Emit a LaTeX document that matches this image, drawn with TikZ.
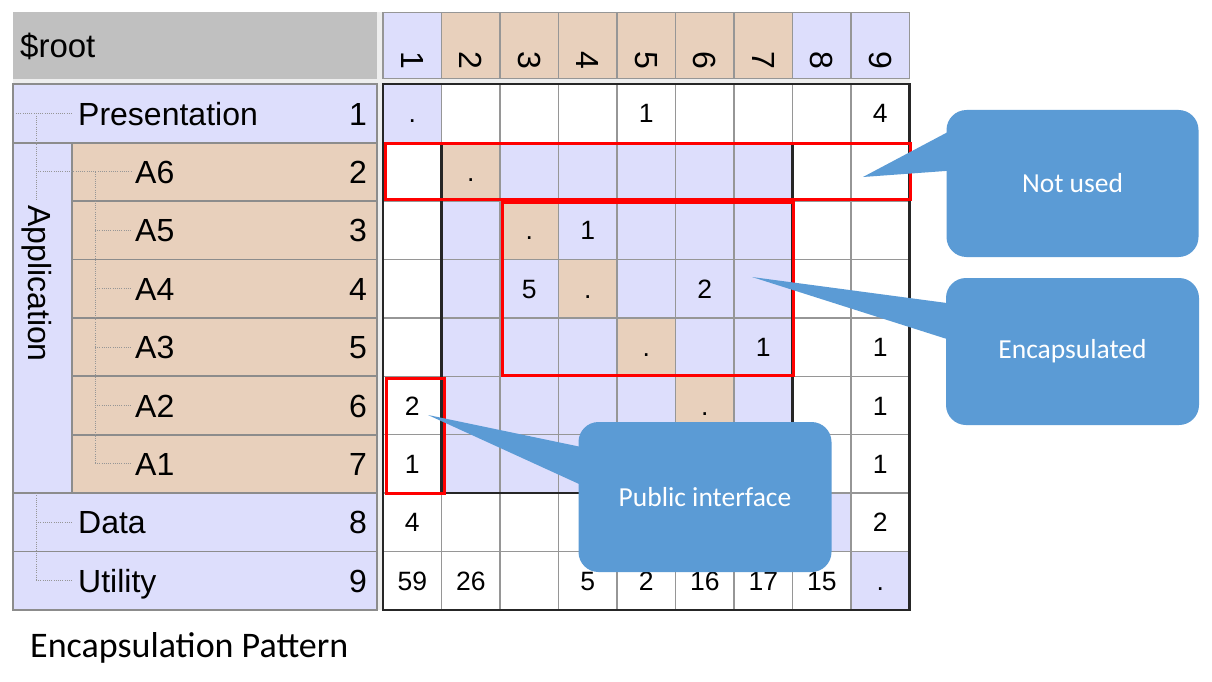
\documentclass[tikz,border=0pt]{standalone}
\usepackage{fontspec}
\setmainfont{Liberation Sans}
\newfontfamily\calfont{Carlito}
\definecolor{lav}{RGB}{221,222,252}
\definecolor{tanc}{RGB}{232,208,188}
\definecolor{hdrgray}{RGB}{192,192,192}
\definecolor{gridg}{RGB}{150,150,150}
\definecolor{panelg}{RGB}{140,140,140}
\definecolor{bluec}{RGB}{91,155,213}
\definecolor{gapg}{RGB}{238,238,238}
\definecolor{treeg}{RGB}{150,150,150}
\begin{document}
\begin{tikzpicture}[x=1pt,y=-1pt,
  celltext/.style={anchor=base,inner sep=0pt,font=\fontsize{26.5}{31}\selectfont},
  hdrdigit/.style={rotate=-90,anchor=center,inner sep=0pt,font=\fontsize{32}{38}\selectfont},
  treelabel/.style={anchor=base west,inner sep=0pt,font=\fontsize{32}{38}\selectfont},
  treenum/.style={anchor=base east,inner sep=0pt,font=\fontsize{32}{38}\selectfont},
  panelline/.style={draw=panelg,line width=1.8pt},
  gridline/.style={draw=gridg,line width=1.4pt},
  darkline/.style={draw=black!85,line width=2.2pt},
  treeline/.style={draw=treeg,line width=0.9pt,dash pattern=on 1pt off 1.2pt},
  redbox/.style={draw=red,line width=3pt},
  calloutbox/.style={fill=bluec,rounded corners=20pt,text=white,inner sep=0pt,font=\calfont\fontsize{27.5}{33}\selectfont},
  caption/.style={anchor=base west,inner sep=0pt,font=\calfont\fontsize{36}{43}\selectfont}
]
\useasboundingbox (0,0) rectangle (1212,682);
\fill[white] (0,0) rectangle (1212,682);
% gap background
\fill[gapg] (13.3,12.3) rectangle (909.5,610);

% ---------- left header ----------
\fill[hdrgray] (13.3,12.3) rectangle (376.7,78.7);
\node[anchor=base west,inner sep=0pt,font=\fontsize{33}{39}\selectfont] (root) at (20,58) {\$root};

% ---------- left tree panel ----------
\fill[lav] (13.3,84.3) rectangle (376.7,609.9);
\foreach \r in {2,...,7}
  \fill[tanc] (72.3,{84.3+(\r-1)*58.4}) rectangle (376.7,{84.3+\r*58.4});
\draw[panelline] (13.3,84.3) rectangle (376.7,609.9);
\draw[panelline] (13.3,142.7) -- (376.7,142.7);
\draw[panelline] (13.3,493.1) -- (376.7,493.1);
\draw[panelline] (13.3,551.5) -- (376.7,551.5);
\draw[panelline] (72.3,142.7) -- (72.3,493.1);
\foreach \r in {3,...,7}
  \draw[panelline] (72.3,{84.3+(\r-1)*58.4}) -- (376.7,{84.3+(\r-1)*58.4});

% tree dotted lines
\draw[treeline] (16,113.5) -- (73,113.5);
\draw[treeline] (36,113.5) -- (36,200);
\draw[treeline] (36,171.9) -- (132,171.9);
\draw[treeline] (95,171.9) -- (95,463.9);
\foreach \r in {3,...,7}
  \draw[treeline] (95,{84.3+(\r-0.5)*58.4}) -- (132,{84.3+(\r-0.5)*58.4});
\draw[treeline] (36,493.1) -- (36,580.7);
\draw[treeline] (36,522.3) -- (73,522.3);
\draw[treeline] (36,580.7) -- (73,580.7);

% tree labels
\node[treelabel] (tP) at (78,125) {Presentation};
\node[treelabel] (tD) at (78,533.8) {Data};
\node[treelabel] (tU) at (78,592.2) {Utility};
\foreach \r/\t in {2/A6,3/A5,4/A4,5/A3,6/A2,7/A1}
  \node[treelabel] (t\t) at (135,{84.3+(\r-0.5)*58.4+11.5}) {\t};
\foreach \r in {1,...,9}
  \node[treenum] (n\r) at (367,{84.3+(\r-0.5)*58.4+11.5}) {\r};
\node[rotate=-90,anchor=center,inner sep=0pt,font=\fontsize{32}{38}\selectfont] (tApp) at (37,283.5) {Application};

% ---------- matrix header ----------
\foreach \c in {1,8,9}
  \fill[lav] ({383+(\c-1)*58.5},12.3) rectangle ({383+\c*58.5},78.3);
\foreach \c in {2,...,7}
  \fill[tanc] ({383+(\c-1)*58.5},12.3) rectangle ({383+\c*58.5},78.3);
\foreach \c in {1,...,9}
  \draw[gridline] ({383+(\c-1)*58.5},12.3) rectangle ({383+\c*58.5},78.3);
\foreach \c in {1,...,9}
  \node[hdrdigit] (h\c) at ({383+(\c-0.5)*58.5},60) {\c};

% ---------- matrix cells ----------
\fill[white] (383,84.3) rectangle (909.5,609.9);
\fill[lav] (441.5,142.7) rectangle (792.5,493.1);
\foreach \k in {2,...,7}
  \fill[tanc] ({383+(\k-1)*58.5},{84.3+(\k-1)*58.4}) rectangle ({383+\k*58.5},{84.3+\k*58.4});
\foreach \k in {1,8,9}
  \fill[lav] ({383+(\k-1)*58.5},{84.3+(\k-1)*58.4}) rectangle ({383+\k*58.5},{84.3+\k*58.4});
\foreach \i in {1,...,8} {
  \draw[gridline] ({383+\i*58.5},84.3) -- ({383+\i*58.5},609.9);
  \draw[gridline] (383,{84.3+\i*58.4}) -- (909.5,{84.3+\i*58.4});
}
\draw[darkline] (441.5,142.7) rectangle (792.5,493.1);
\draw[darkline] (383,84.3) rectangle (909.5,609.9);

% cell contents
\foreach \r/\c/\t in {1/1/., 1/5/1, 1/9/4,
  2/2/.,
  3/3/., 3/4/1,
  4/3/5, 4/4/., 4/6/2,
  5/5/., 5/7/1, 5/9/1,
  6/1/2, 6/6/., 6/9/1,
  7/1/1, 7/7/., 7/9/1,
  8/1/4, 8/8/., 8/9/2,
  9/1/59, 9/2/26, 9/4/5, 9/5/2, 9/6/16, 9/7/17, 9/8/15, 9/9/.}
  \node[celltext] (m\r-\c) at ({383+(\c-0.5)*58.5},{84.3+(\r-0.5)*58.4+9.5}) {\t};

% red highlight boxes
\draw[redbox] (385,143.5) rectangle (910.5,199.5);
\draw[redbox] (502,202) rectangle (793,375.5);
\draw[redbox] (386,378) rectangle (444.5,493.5);

% ---------- callouts ----------
\coordinate (tip1) at (863,177);
\coordinate (tip2) at (752,277);
\coordinate (tip3) at (428,415);
\node[calloutbox,minimum width=252pt,minimum height=147pt] (cb1) at (1072.5,183.5) {Not used};
\node[calloutbox,minimum width=253pt,minimum height=147pt] (cb2) at (1072.5,351.5) {Encapsulated};
\node[calloutbox,minimum width=253pt,minimum height=150pt] (cb3) at (705,497) {Public interface};
\fill[bluec] (tip1) -- (966,122.4) -- (966,169.5) -- cycle;
\fill[bluec] (tip2) -- (967,305.7) -- (967,345.4) -- cycle;
\fill[bluec] (tip3) -- (599,450.7) -- (599,493.1) -- cycle;

% caption
\node[caption] (cap) at (30,657) {Encapsulation Pattern};
\end{tikzpicture}
\end{document}
